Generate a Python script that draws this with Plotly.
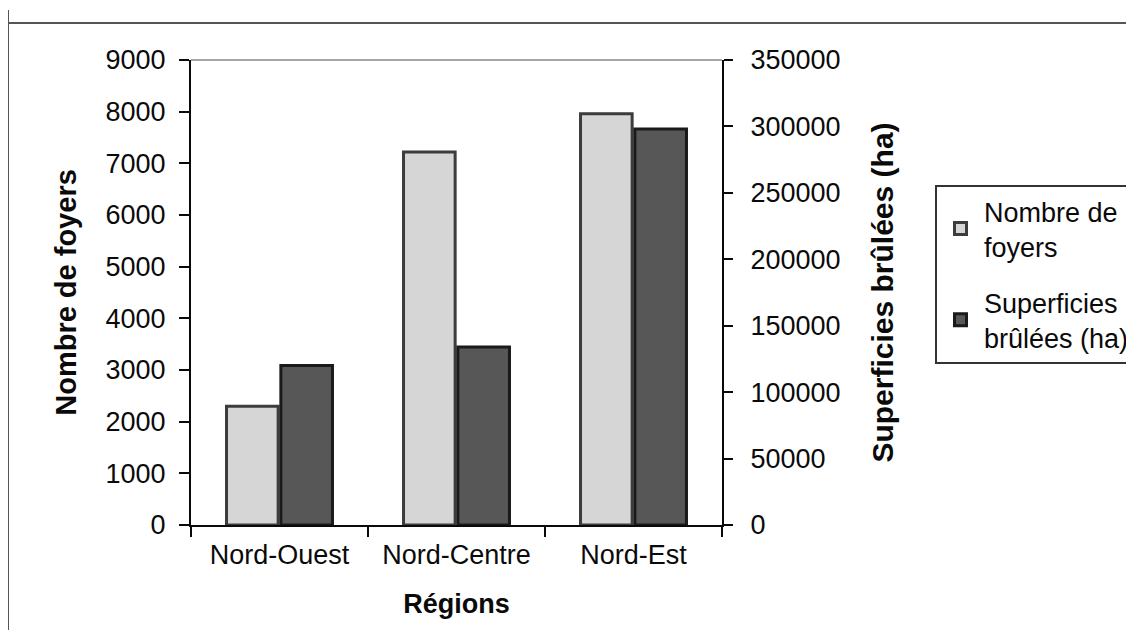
import plotly.graph_objects as go

# ---- data ----
regions = ["Nord-Ouest", "Nord-Centre", "Nord-Est"]
foyers = [2300, 7220, 7960]
superficies = [120000, 134000, 298000]
left_ticks = [0, 1000, 2000, 3000, 4000, 5000, 6000, 7000, 8000, 9000]
right_ticks = [0, 50000, 100000, 150000, 200000, 250000, 300000, 350000]

# the page body has an 8px margin, so the figure is drawn 8px smaller and shifted
OFF = 8
W, H = 1134 - OFF, 630 - OFF
L, R, T, B = 191 - OFF, 722 - OFF, 60 - OFF, 525 - OFF  # plot area in figure pixels
PW, PH = R - L, B - T


def px_x(x):
    return (x - OFF - L) / PW


def px_y(y):
    return (B - (y - OFF)) / PH


FONT = "Liberation Sans, Arial, sans-serif"
INK = "#0a0a0a"

fig = go.Figure()
fig.add_trace(go.Bar(
    x=regions, y=foyers, name="Nombre de<br>foyers", yaxis="y", offsetgroup="a", legendgroup="a",
    marker=dict(color="#d6d6d6", line=dict(color="#3c3c3c", width=3)),
))
fig.add_trace(go.Bar(
    x=regions, y=superficies, name="Superficies<br>brûlées (ha)", yaxis="y2", offsetgroup="b", legendgroup="b",
    marker=dict(color="#575757", line=dict(color="#1a1a1a", width=3)),
))

axis_common = dict(showgrid=False, zeroline=False, linecolor=INK, linewidth=2,
                   tickcolor=INK, tickwidth=2, tickfont=dict(family=FONT, size=27, color=INK))

fig.update_layout(
    width=W, height=H,
    paper_bgcolor="white", plot_bgcolor="white",
    margin=dict(l=L, r=W - R, t=T, b=H - B, autoexpand=False),
    barmode="group", bargap=0.386, bargroupgap=0.05,
    font=dict(family=FONT, color=INK),
    xaxis=dict(
        **axis_common, showline=True, ticks="outside", ticklen=10, tickson="boundaries",
        ticklabelstandoff=5,
        title=dict(text="<b>Régions</b>", font=dict(family=FONT, size=27, color=INK), standoff=25),
    ),
    yaxis=dict(
        **axis_common, showline=True, range=[0, 9000], tickvals=left_ticks, tickformat="d",
        ticks="outside", ticklen=10, ticklabelstandoff=8,
        title=dict(text="<b>Nombre de foyers</b>", font=dict(family=FONT, size=29, color=INK), standoff=20),
    ),
    yaxis2=dict(
        **axis_common, showline=True, overlaying="y", side="right", anchor="x",
        range=[0, 350000], tickvals=right_ticks, tickformat="d",
        ticks="outside", ticklen=9, ticklabelstandoff=12,
        title=dict(text="<b>Superficies brûlées (ha)</b>", font=dict(family=FONT, size=30, color=INK), standoff=32),
    ),
    yaxis3=dict(
        **axis_common, showline=False, overlaying="y", side="left", anchor="x",
        range=[0, 9000], tickvals=left_ticks, ticks="inside", ticklen=8, showticklabels=False,
    ),
    yaxis4=dict(
        **axis_common, showline=False, overlaying="y", side="right", anchor="x",
        range=[0, 350000], tickvals=right_ticks, ticks="inside", ticklen=9, showticklabels=False,
    ),
    legend=dict(
        x=px_x(935), y=px_y(185), xanchor="left", yanchor="top",
        bordercolor="#333333", borderwidth=2, bgcolor="white",
        font=dict(family=FONT, size=27, color=INK),
        tracegroupgap=18, itemwidth=37,
    ),
    showlegend=True,
    shapes=[
        # plot area top border
        dict(type="line", xref="paper", yref="paper", x0=0, x1=1, y0=1, y1=1,
             line=dict(color="#8a8a8a", width=1.5)),
        # outer frame lines of the scanned page
        dict(type="line", xref="paper", yref="paper", x0=px_x(8), x1=px_x(1134), y0=px_y(23), y1=px_y(23),
             line=dict(color="#555555", width=2)),
        dict(type="line", xref="paper", yref="paper", x0=px_x(8), x1=px_x(8), y0=px_y(10), y1=px_y(630),
             line=dict(color="#555555", width=2)),
    ],
)

fig.write_html("out.html")
